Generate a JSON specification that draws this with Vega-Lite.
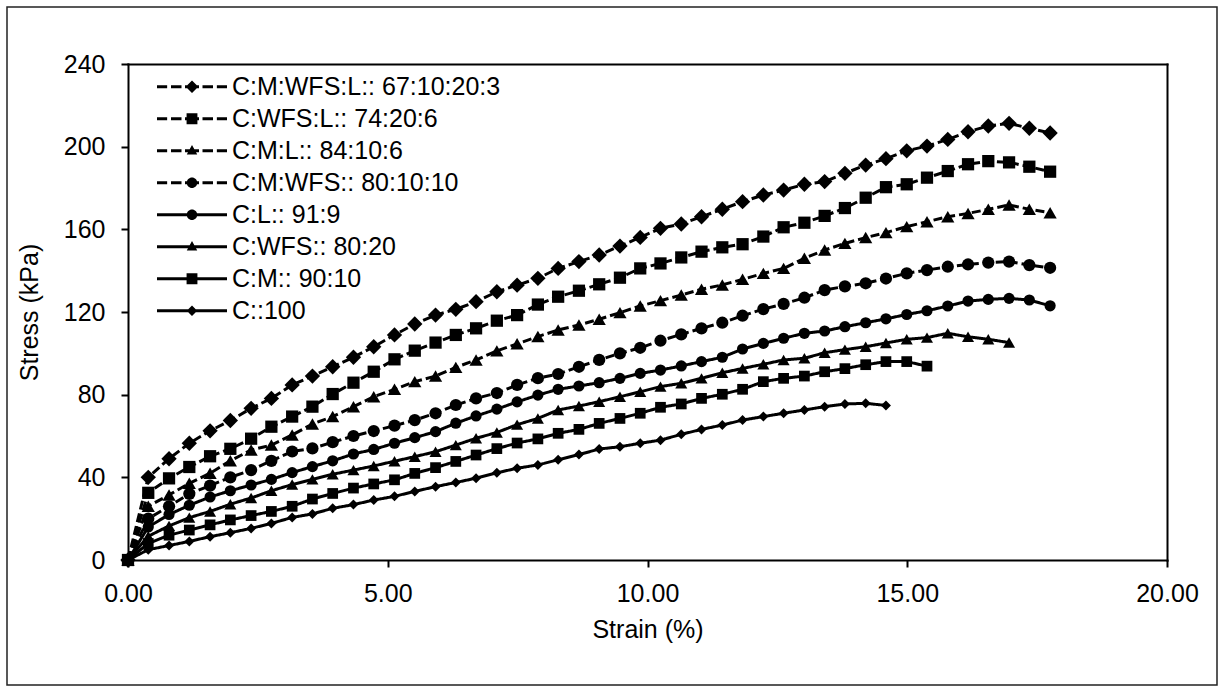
{
"$schema":"https://vega.github.io/schema/vega-lite/v6.json",
"width":1210,"height":678,
"autosize":{"type":"none"},
"padding":{"left":7,"top":7,"right":6,"bottom":1},
"background":"white",
"config":{
 "font":"Liberation Sans",
 "view":{"stroke":"#222","strokeWidth":1.5},
 "axis":{"domainColor":"black","domainWidth":2,"tickColor":"black","tickWidth":2,"tickSize":7,"labelFont":"Liberation Sans","labelFontSize":25,"labelColor":"black","titleFont":"Liberation Sans","titleFontSize":25,"titleFontWeight":"normal","titleColor":"black","grid":false,"domainCap":"square","labelFlush":false,"labelOverlap":false}
},
"data":{"values":[
{"series":"C:M:WFS:L:: 67:10:20:3","strain":0,"stress":0},{"series":"C:M:WFS:L:: 67:10:20:3","strain":0.39,"stress":40},{"series":"C:M:WFS:L:: 67:10:20:3","strain":0.79,"stress":49},{"series":"C:M:WFS:L:: 67:10:20:3","strain":1.18,"stress":56.5},{"series":"C:M:WFS:L:: 67:10:20:3","strain":1.58,"stress":62.5},{"series":"C:M:WFS:L:: 67:10:20:3","strain":1.97,"stress":67.5},{"series":"C:M:WFS:L:: 67:10:20:3","strain":2.37,"stress":73.4},{"series":"C:M:WFS:L:: 67:10:20:3","strain":2.76,"stress":78.2},{"series":"C:M:WFS:L:: 67:10:20:3","strain":3.16,"stress":84.7},{"series":"C:M:WFS:L:: 67:10:20:3","strain":3.55,"stress":89},{"series":"C:M:WFS:L:: 67:10:20:3","strain":3.94,"stress":93.5},{"series":"C:M:WFS:L:: 67:10:20:3","strain":4.34,"stress":98.1},{"series":"C:M:WFS:L:: 67:10:20:3","strain":4.73,"stress":103.2},{"series":"C:M:WFS:L:: 67:10:20:3","strain":5.13,"stress":108.9},{"series":"C:M:WFS:L:: 67:10:20:3","strain":5.52,"stress":114.2},{"series":"C:M:WFS:L:: 67:10:20:3","strain":5.92,"stress":118.5},{"series":"C:M:WFS:L:: 67:10:20:3","strain":6.31,"stress":121.3},{"series":"C:M:WFS:L:: 67:10:20:3","strain":6.7,"stress":125},{"series":"C:M:WFS:L:: 67:10:20:3","strain":7.1,"stress":129.8},{"series":"C:M:WFS:L:: 67:10:20:3","strain":7.49,"stress":133},{"series":"C:M:WFS:L:: 67:10:20:3","strain":7.89,"stress":136.3},{"series":"C:M:WFS:L:: 67:10:20:3","strain":8.28,"stress":141.1},{"series":"C:M:WFS:L:: 67:10:20:3","strain":8.68,"stress":144.4},{"series":"C:M:WFS:L:: 67:10:20:3","strain":9.07,"stress":147.6},{"series":"C:M:WFS:L:: 67:10:20:3","strain":9.47,"stress":151.9},{"series":"C:M:WFS:L:: 67:10:20:3","strain":9.86,"stress":156.1},{"series":"C:M:WFS:L:: 67:10:20:3","strain":10.25,"stress":160.5},{"series":"C:M:WFS:L:: 67:10:20:3","strain":10.65,"stress":162.6},{"series":"C:M:WFS:L:: 67:10:20:3","strain":11.04,"stress":166.1},{"series":"C:M:WFS:L:: 67:10:20:3","strain":11.44,"stress":169.7},{"series":"C:M:WFS:L:: 67:10:20:3","strain":11.83,"stress":173.4},{"series":"C:M:WFS:L:: 67:10:20:3","strain":12.23,"stress":176.6},{"series":"C:M:WFS:L:: 67:10:20:3","strain":12.62,"stress":179},{"series":"C:M:WFS:L:: 67:10:20:3","strain":13.02,"stress":181.8},{"series":"C:M:WFS:L:: 67:10:20:3","strain":13.41,"stress":183.1},{"series":"C:M:WFS:L:: 67:10:20:3","strain":13.8,"stress":187.1},{"series":"C:M:WFS:L:: 67:10:20:3","strain":14.2,"stress":191.1},{"series":"C:M:WFS:L:: 67:10:20:3","strain":14.59,"stress":194.2},{"series":"C:M:WFS:L:: 67:10:20:3","strain":14.99,"stress":198},{"series":"C:M:WFS:L:: 67:10:20:3","strain":15.38,"stress":200.3},{"series":"C:M:WFS:L:: 67:10:20:3","strain":15.78,"stress":203.5},{"series":"C:M:WFS:L:: 67:10:20:3","strain":16.17,"stress":207.2},{"series":"C:M:WFS:L:: 67:10:20:3","strain":16.56,"stress":210},{"series":"C:M:WFS:L:: 67:10:20:3","strain":16.96,"stress":211.3},{"series":"C:M:WFS:L:: 67:10:20:3","strain":17.35,"stress":208.9},{"series":"C:M:WFS:L:: 67:10:20:3","strain":17.75,"stress":206.6},
{"series":"C:WFS:L:: 74:20:6","strain":0,"stress":0},{"series":"C:WFS:L:: 74:20:6","strain":0.39,"stress":32.5},{"series":"C:WFS:L:: 74:20:6","strain":0.79,"stress":39.5},{"series":"C:WFS:L:: 74:20:6","strain":1.18,"stress":45},{"series":"C:WFS:L:: 74:20:6","strain":1.58,"stress":50.2},{"series":"C:WFS:L:: 74:20:6","strain":1.97,"stress":53.8},{"series":"C:WFS:L:: 74:20:6","strain":2.37,"stress":58.7},{"series":"C:WFS:L:: 74:20:6","strain":2.76,"stress":64.5},{"series":"C:WFS:L:: 74:20:6","strain":3.16,"stress":69.4},{"series":"C:WFS:L:: 74:20:6","strain":3.55,"stress":74.2},{"series":"C:WFS:L:: 74:20:6","strain":3.94,"stress":80.3},{"series":"C:WFS:L:: 74:20:6","strain":4.34,"stress":85.8},{"series":"C:WFS:L:: 74:20:6","strain":4.73,"stress":91.1},{"series":"C:WFS:L:: 74:20:6","strain":5.13,"stress":97.1},{"series":"C:WFS:L:: 74:20:6","strain":5.52,"stress":101.3},{"series":"C:WFS:L:: 74:20:6","strain":5.92,"stress":105.2},{"series":"C:WFS:L:: 74:20:6","strain":6.31,"stress":108.9},{"series":"C:WFS:L:: 74:20:6","strain":6.7,"stress":112.1},{"series":"C:WFS:L:: 74:20:6","strain":7.1,"stress":115.8},{"series":"C:WFS:L:: 74:20:6","strain":7.49,"stress":118.5},{"series":"C:WFS:L:: 74:20:6","strain":7.89,"stress":123.6},{"series":"C:WFS:L:: 74:20:6","strain":8.28,"stress":127.4},{"series":"C:WFS:L:: 74:20:6","strain":8.68,"stress":130.3},{"series":"C:WFS:L:: 74:20:6","strain":9.07,"stress":133.4},{"series":"C:WFS:L:: 74:20:6","strain":9.47,"stress":136.6},{"series":"C:WFS:L:: 74:20:6","strain":9.86,"stress":141.1},{"series":"C:WFS:L:: 74:20:6","strain":10.25,"stress":143.5},{"series":"C:WFS:L:: 74:20:6","strain":10.65,"stress":146.4},{"series":"C:WFS:L:: 74:20:6","strain":11.04,"stress":149.2},{"series":"C:WFS:L:: 74:20:6","strain":11.44,"stress":151.3},{"series":"C:WFS:L:: 74:20:6","strain":11.83,"stress":152.8},{"series":"C:WFS:L:: 74:20:6","strain":12.23,"stress":156.5},{"series":"C:WFS:L:: 74:20:6","strain":12.62,"stress":161},{"series":"C:WFS:L:: 74:20:6","strain":13.02,"stress":163.2},{"series":"C:WFS:L:: 74:20:6","strain":13.41,"stress":166.5},{"series":"C:WFS:L:: 74:20:6","strain":13.8,"stress":170.3},{"series":"C:WFS:L:: 74:20:6","strain":14.2,"stress":175.3},{"series":"C:WFS:L:: 74:20:6","strain":14.59,"stress":180.4},{"series":"C:WFS:L:: 74:20:6","strain":14.99,"stress":181.8},{"series":"C:WFS:L:: 74:20:6","strain":15.38,"stress":185},{"series":"C:WFS:L:: 74:20:6","strain":15.78,"stress":188.2},{"series":"C:WFS:L:: 74:20:6","strain":16.17,"stress":191.5},{"series":"C:WFS:L:: 74:20:6","strain":16.56,"stress":193},{"series":"C:WFS:L:: 74:20:6","strain":16.96,"stress":192.4},{"series":"C:WFS:L:: 74:20:6","strain":17.35,"stress":190.3},{"series":"C:WFS:L:: 74:20:6","strain":17.75,"stress":187.9},
{"series":"C:M:L:: 84:10:6","strain":0,"stress":0},{"series":"C:M:L:: 84:10:6","strain":0.39,"stress":26},{"series":"C:M:L:: 84:10:6","strain":0.79,"stress":31.5},{"series":"C:M:L:: 84:10:6","strain":1.18,"stress":37.1},{"series":"C:M:L:: 84:10:6","strain":1.58,"stress":42},{"series":"C:M:L:: 84:10:6","strain":1.97,"stress":48},{"series":"C:M:L:: 84:10:6","strain":2.37,"stress":53.2},{"series":"C:M:L:: 84:10:6","strain":2.76,"stress":55.6},{"series":"C:M:L:: 84:10:6","strain":3.16,"stress":60.5},{"series":"C:M:L:: 84:10:6","strain":3.55,"stress":65.8},{"series":"C:M:L:: 84:10:6","strain":3.94,"stress":69.4},{"series":"C:M:L:: 84:10:6","strain":4.34,"stress":74.2},{"series":"C:M:L:: 84:10:6","strain":4.73,"stress":79},{"series":"C:M:L:: 84:10:6","strain":5.13,"stress":82.6},{"series":"C:M:L:: 84:10:6","strain":5.52,"stress":86.3},{"series":"C:M:L:: 84:10:6","strain":5.92,"stress":89},{"series":"C:M:L:: 84:10:6","strain":6.31,"stress":93.2},{"series":"C:M:L:: 84:10:6","strain":6.7,"stress":96.8},{"series":"C:M:L:: 84:10:6","strain":7.1,"stress":101.2},{"series":"C:M:L:: 84:10:6","strain":7.49,"stress":104.6},{"series":"C:M:L:: 84:10:6","strain":7.89,"stress":108.1},{"series":"C:M:L:: 84:10:6","strain":8.28,"stress":111.3},{"series":"C:M:L:: 84:10:6","strain":8.68,"stress":113.7},{"series":"C:M:L:: 84:10:6","strain":9.07,"stress":116.5},{"series":"C:M:L:: 84:10:6","strain":9.47,"stress":119.7},{"series":"C:M:L:: 84:10:6","strain":9.86,"stress":122.9},{"series":"C:M:L:: 84:10:6","strain":10.25,"stress":125.5},{"series":"C:M:L:: 84:10:6","strain":10.65,"stress":128.2},{"series":"C:M:L:: 84:10:6","strain":11.04,"stress":131},{"series":"C:M:L:: 84:10:6","strain":11.44,"stress":133.1},{"series":"C:M:L:: 84:10:6","strain":11.83,"stress":135.8},{"series":"C:M:L:: 84:10:6","strain":12.23,"stress":138.7},{"series":"C:M:L:: 84:10:6","strain":12.62,"stress":141.1},{"series":"C:M:L:: 84:10:6","strain":13.02,"stress":146},{"series":"C:M:L:: 84:10:6","strain":13.41,"stress":150},{"series":"C:M:L:: 84:10:6","strain":13.8,"stress":153.2},{"series":"C:M:L:: 84:10:6","strain":14.2,"stress":156},{"series":"C:M:L:: 84:10:6","strain":14.59,"stress":158.4},{"series":"C:M:L:: 84:10:6","strain":14.99,"stress":161.3},{"series":"C:M:L:: 84:10:6","strain":15.38,"stress":163.7},{"series":"C:M:L:: 84:10:6","strain":15.78,"stress":166.1},{"series":"C:M:L:: 84:10:6","strain":16.17,"stress":167.7},{"series":"C:M:L:: 84:10:6","strain":16.56,"stress":169.7},{"series":"C:M:L:: 84:10:6","strain":16.96,"stress":171.8},{"series":"C:M:L:: 84:10:6","strain":17.35,"stress":169.7},{"series":"C:M:L:: 84:10:6","strain":17.75,"stress":168},
{"series":"C:M:WFS:: 80:10:10","strain":0,"stress":0},{"series":"C:M:WFS:: 80:10:10","strain":0.39,"stress":20},{"series":"C:M:WFS:: 80:10:10","strain":0.79,"stress":26},{"series":"C:M:WFS:: 80:10:10","strain":1.18,"stress":32},{"series":"C:M:WFS:: 80:10:10","strain":1.58,"stress":36},{"series":"C:M:WFS:: 80:10:10","strain":1.97,"stress":40},{"series":"C:M:WFS:: 80:10:10","strain":2.37,"stress":43.5},{"series":"C:M:WFS:: 80:10:10","strain":2.76,"stress":48},{"series":"C:M:WFS:: 80:10:10","strain":3.16,"stress":52.5},{"series":"C:M:WFS:: 80:10:10","strain":3.55,"stress":54},{"series":"C:M:WFS:: 80:10:10","strain":3.94,"stress":57},{"series":"C:M:WFS:: 80:10:10","strain":4.34,"stress":60},{"series":"C:M:WFS:: 80:10:10","strain":4.73,"stress":62.4},{"series":"C:M:WFS:: 80:10:10","strain":5.13,"stress":65},{"series":"C:M:WFS:: 80:10:10","strain":5.52,"stress":67.7},{"series":"C:M:WFS:: 80:10:10","strain":5.92,"stress":71},{"series":"C:M:WFS:: 80:10:10","strain":6.31,"stress":75},{"series":"C:M:WFS:: 80:10:10","strain":6.7,"stress":78.2},{"series":"C:M:WFS:: 80:10:10","strain":7.1,"stress":80.8},{"series":"C:M:WFS:: 80:10:10","strain":7.49,"stress":84.7},{"series":"C:M:WFS:: 80:10:10","strain":7.89,"stress":88},{"series":"C:M:WFS:: 80:10:10","strain":8.28,"stress":90},{"series":"C:M:WFS:: 80:10:10","strain":8.68,"stress":93.5},{"series":"C:M:WFS:: 80:10:10","strain":9.07,"stress":96.8},{"series":"C:M:WFS:: 80:10:10","strain":9.47,"stress":100},{"series":"C:M:WFS:: 80:10:10","strain":9.86,"stress":102.7},{"series":"C:M:WFS:: 80:10:10","strain":10.25,"stress":106.1},{"series":"C:M:WFS:: 80:10:10","strain":10.65,"stress":109.2},{"series":"C:M:WFS:: 80:10:10","strain":11.04,"stress":112.1},{"series":"C:M:WFS:: 80:10:10","strain":11.44,"stress":114.8},{"series":"C:M:WFS:: 80:10:10","strain":11.83,"stress":118.2},{"series":"C:M:WFS:: 80:10:10","strain":12.23,"stress":121.4},{"series":"C:M:WFS:: 80:10:10","strain":12.62,"stress":123.9},{"series":"C:M:WFS:: 80:10:10","strain":13.02,"stress":126.9},{"series":"C:M:WFS:: 80:10:10","strain":13.41,"stress":130.6},{"series":"C:M:WFS:: 80:10:10","strain":13.8,"stress":132.4},{"series":"C:M:WFS:: 80:10:10","strain":14.2,"stress":133.9},{"series":"C:M:WFS:: 80:10:10","strain":14.59,"stress":136.2},{"series":"C:M:WFS:: 80:10:10","strain":14.99,"stress":138.7},{"series":"C:M:WFS:: 80:10:10","strain":15.38,"stress":140.3},{"series":"C:M:WFS:: 80:10:10","strain":15.78,"stress":141.9},{"series":"C:M:WFS:: 80:10:10","strain":16.17,"stress":143},{"series":"C:M:WFS:: 80:10:10","strain":16.56,"stress":143.9},{"series":"C:M:WFS:: 80:10:10","strain":16.96,"stress":144.4},{"series":"C:M:WFS:: 80:10:10","strain":17.35,"stress":142.7},{"series":"C:M:WFS:: 80:10:10","strain":17.75,"stress":141.4},
{"series":"C:L:: 91:9","strain":0,"stress":0},{"series":"C:L:: 91:9","strain":0.39,"stress":16},{"series":"C:L:: 91:9","strain":0.79,"stress":22},{"series":"C:L:: 91:9","strain":1.18,"stress":26.5},{"series":"C:L:: 91:9","strain":1.58,"stress":30.5},{"series":"C:L:: 91:9","strain":1.97,"stress":33.5},{"series":"C:L:: 91:9","strain":2.37,"stress":36.3},{"series":"C:L:: 91:9","strain":2.76,"stress":39},{"series":"C:L:: 91:9","strain":3.16,"stress":42.3},{"series":"C:L:: 91:9","strain":3.55,"stress":45.2},{"series":"C:L:: 91:9","strain":3.94,"stress":48},{"series":"C:L:: 91:9","strain":4.34,"stress":51.3},{"series":"C:L:: 91:9","strain":4.73,"stress":53.5},{"series":"C:L:: 91:9","strain":5.13,"stress":56.5},{"series":"C:L:: 91:9","strain":5.52,"stress":59.2},{"series":"C:L:: 91:9","strain":5.92,"stress":62.1},{"series":"C:L:: 91:9","strain":6.31,"stress":66.2},{"series":"C:L:: 91:9","strain":6.7,"stress":69.7},{"series":"C:L:: 91:9","strain":7.1,"stress":73},{"series":"C:L:: 91:9","strain":7.49,"stress":76.5},{"series":"C:L:: 91:9","strain":7.89,"stress":79.8},{"series":"C:L:: 91:9","strain":8.28,"stress":82.6},{"series":"C:L:: 91:9","strain":8.68,"stress":84.2},{"series":"C:L:: 91:9","strain":9.07,"stress":85.8},{"series":"C:L:: 91:9","strain":9.47,"stress":87.9},{"series":"C:L:: 91:9","strain":9.86,"stress":90.3},{"series":"C:L:: 91:9","strain":10.25,"stress":91.9},{"series":"C:L:: 91:9","strain":10.65,"stress":93.9},{"series":"C:L:: 91:9","strain":11.04,"stress":96},{"series":"C:L:: 91:9","strain":11.44,"stress":98.1},{"series":"C:L:: 91:9","strain":11.83,"stress":102.1},{"series":"C:L:: 91:9","strain":12.23,"stress":104.8},{"series":"C:L:: 91:9","strain":12.62,"stress":107.3},{"series":"C:L:: 91:9","strain":13.02,"stress":109.7},{"series":"C:L:: 91:9","strain":13.41,"stress":110.8},{"series":"C:L:: 91:9","strain":13.8,"stress":112.9},{"series":"C:L:: 91:9","strain":14.2,"stress":114.8},{"series":"C:L:: 91:9","strain":14.59,"stress":116.7},{"series":"C:L:: 91:9","strain":14.99,"stress":118.8},{"series":"C:L:: 91:9","strain":15.38,"stress":120.6},{"series":"C:L:: 91:9","strain":15.78,"stress":122.9},{"series":"C:L:: 91:9","strain":16.17,"stress":125.3},{"series":"C:L:: 91:9","strain":16.56,"stress":126.1},{"series":"C:L:: 91:9","strain":16.96,"stress":126.6},{"series":"C:L:: 91:9","strain":17.35,"stress":125.8},{"series":"C:L:: 91:9","strain":17.75,"stress":123},
{"series":"C:WFS:: 80:20","strain":0,"stress":0},{"series":"C:WFS:: 80:20","strain":0.39,"stress":11.5},{"series":"C:WFS:: 80:20","strain":0.79,"stress":16.5},{"series":"C:WFS:: 80:20","strain":1.18,"stress":20.5},{"series":"C:WFS:: 80:20","strain":1.58,"stress":23.5},{"series":"C:WFS:: 80:20","strain":1.97,"stress":27},{"series":"C:WFS:: 80:20","strain":2.37,"stress":30},{"series":"C:WFS:: 80:20","strain":2.76,"stress":33.5},{"series":"C:WFS:: 80:20","strain":3.16,"stress":36.5},{"series":"C:WFS:: 80:20","strain":3.55,"stress":39},{"series":"C:WFS:: 80:20","strain":3.94,"stress":41.5},{"series":"C:WFS:: 80:20","strain":4.34,"stress":43.5},{"series":"C:WFS:: 80:20","strain":4.73,"stress":45.5},{"series":"C:WFS:: 80:20","strain":5.13,"stress":47.8},{"series":"C:WFS:: 80:20","strain":5.52,"stress":50},{"series":"C:WFS:: 80:20","strain":5.92,"stress":52.4},{"series":"C:WFS:: 80:20","strain":6.31,"stress":55.6},{"series":"C:WFS:: 80:20","strain":6.7,"stress":58.9},{"series":"C:WFS:: 80:20","strain":7.1,"stress":61.7},{"series":"C:WFS:: 80:20","strain":7.49,"stress":65.5},{"series":"C:WFS:: 80:20","strain":7.89,"stress":68.5},{"series":"C:WFS:: 80:20","strain":8.28,"stress":72.6},{"series":"C:WFS:: 80:20","strain":8.68,"stress":74.5},{"series":"C:WFS:: 80:20","strain":9.07,"stress":76.6},{"series":"C:WFS:: 80:20","strain":9.47,"stress":79},{"series":"C:WFS:: 80:20","strain":9.86,"stress":81.4},{"series":"C:WFS:: 80:20","strain":10.25,"stress":83.9},{"series":"C:WFS:: 80:20","strain":10.65,"stress":85.5},{"series":"C:WFS:: 80:20","strain":11.04,"stress":87.9},{"series":"C:WFS:: 80:20","strain":11.44,"stress":90.6},{"series":"C:WFS:: 80:20","strain":11.83,"stress":92.7},{"series":"C:WFS:: 80:20","strain":12.23,"stress":94.7},{"series":"C:WFS:: 80:20","strain":12.62,"stress":96.8},{"series":"C:WFS:: 80:20","strain":13.02,"stress":97.6},{"series":"C:WFS:: 80:20","strain":13.41,"stress":100.3},{"series":"C:WFS:: 80:20","strain":13.8,"stress":101.8},{"series":"C:WFS:: 80:20","strain":14.2,"stress":103.2},{"series":"C:WFS:: 80:20","strain":14.59,"stress":105},{"series":"C:WFS:: 80:20","strain":14.99,"stress":106.8},{"series":"C:WFS:: 80:20","strain":15.38,"stress":107.6},{"series":"C:WFS:: 80:20","strain":15.78,"stress":109.7},{"series":"C:WFS:: 80:20","strain":16.17,"stress":108},{"series":"C:WFS:: 80:20","strain":16.56,"stress":106.8},{"series":"C:WFS:: 80:20","strain":16.96,"stress":105.2},
{"series":"C:M:: 90:10","strain":0,"stress":0},{"series":"C:M:: 90:10","strain":0.39,"stress":8},{"series":"C:M:: 90:10","strain":0.79,"stress":12},{"series":"C:M:: 90:10","strain":1.18,"stress":14.5},{"series":"C:M:: 90:10","strain":1.58,"stress":17},{"series":"C:M:: 90:10","strain":1.97,"stress":19.4},{"series":"C:M:: 90:10","strain":2.37,"stress":21.5},{"series":"C:M:: 90:10","strain":2.76,"stress":23.5},{"series":"C:M:: 90:10","strain":3.16,"stress":26},{"series":"C:M:: 90:10","strain":3.55,"stress":29.5},{"series":"C:M:: 90:10","strain":3.94,"stress":32.2},{"series":"C:M:: 90:10","strain":4.34,"stress":34.8},{"series":"C:M:: 90:10","strain":4.73,"stress":36.8},{"series":"C:M:: 90:10","strain":5.13,"stress":38.8},{"series":"C:M:: 90:10","strain":5.52,"stress":41.9},{"series":"C:M:: 90:10","strain":5.92,"stress":44.7},{"series":"C:M:: 90:10","strain":6.31,"stress":47.7},{"series":"C:M:: 90:10","strain":6.7,"stress":50.8},{"series":"C:M:: 90:10","strain":7.1,"stress":53.9},{"series":"C:M:: 90:10","strain":7.49,"stress":56.6},{"series":"C:M:: 90:10","strain":7.89,"stress":58.6},{"series":"C:M:: 90:10","strain":8.28,"stress":61.3},{"series":"C:M:: 90:10","strain":8.68,"stress":63.2},{"series":"C:M:: 90:10","strain":9.07,"stress":66.1},{"series":"C:M:: 90:10","strain":9.47,"stress":68.5},{"series":"C:M:: 90:10","strain":9.86,"stress":71},{"series":"C:M:: 90:10","strain":10.25,"stress":73.9},{"series":"C:M:: 90:10","strain":10.65,"stress":75.5},{"series":"C:M:: 90:10","strain":11.04,"stress":78.2},{"series":"C:M:: 90:10","strain":11.44,"stress":80.2},{"series":"C:M:: 90:10","strain":11.83,"stress":82.6},{"series":"C:M:: 90:10","strain":12.23,"stress":86.3},{"series":"C:M:: 90:10","strain":12.62,"stress":87.9},{"series":"C:M:: 90:10","strain":13.02,"stress":89},{"series":"C:M:: 90:10","strain":13.41,"stress":91.1},{"series":"C:M:: 90:10","strain":13.8,"stress":92.6},{"series":"C:M:: 90:10","strain":14.2,"stress":94.5},{"series":"C:M:: 90:10","strain":14.59,"stress":96},{"series":"C:M:: 90:10","strain":14.99,"stress":96},{"series":"C:M:: 90:10","strain":15.38,"stress":93.8},
{"series":"C::100","strain":0,"stress":0},{"series":"C::100","strain":0.39,"stress":5},{"series":"C::100","strain":0.79,"stress":7},{"series":"C::100","strain":1.18,"stress":9},{"series":"C::100","strain":1.58,"stress":11.3},{"series":"C::100","strain":1.97,"stress":13.2},{"series":"C::100","strain":2.37,"stress":15.3},{"series":"C::100","strain":2.76,"stress":17.7},{"series":"C::100","strain":3.16,"stress":20.6},{"series":"C::100","strain":3.55,"stress":22.3},{"series":"C::100","strain":3.94,"stress":25},{"series":"C::100","strain":4.34,"stress":26.8},{"series":"C::100","strain":4.73,"stress":29},{"series":"C::100","strain":5.13,"stress":30.8},{"series":"C::100","strain":5.52,"stress":33.2},{"series":"C::100","strain":5.92,"stress":35.5},{"series":"C::100","strain":6.31,"stress":37.5},{"series":"C::100","strain":6.7,"stress":39.6},{"series":"C::100","strain":7.1,"stress":42.2},{"series":"C::100","strain":7.49,"stress":44.4},{"series":"C::100","strain":7.89,"stress":46},{"series":"C::100","strain":8.28,"stress":48.5},{"series":"C::100","strain":8.68,"stress":51},{"series":"C::100","strain":9.07,"stress":53.7},{"series":"C::100","strain":9.47,"stress":54.8},{"series":"C::100","strain":9.86,"stress":56.5},{"series":"C::100","strain":10.25,"stress":58},{"series":"C::100","strain":10.65,"stress":60.8},{"series":"C::100","strain":11.04,"stress":63.2},{"series":"C::100","strain":11.44,"stress":65.3},{"series":"C::100","strain":11.83,"stress":67.7},{"series":"C::100","strain":12.23,"stress":69.4},{"series":"C::100","strain":12.62,"stress":71},{"series":"C::100","strain":13.02,"stress":72.6},{"series":"C::100","strain":13.41,"stress":74.2},{"series":"C::100","strain":13.8,"stress":75.5},{"series":"C::100","strain":14.2,"stress":75.8},{"series":"C::100","strain":14.59,"stress":74.8}
]},
"layer":[
 {"mark":{"type":"line","color":"black","strokeWidth":3},
  "encoding":{
   "x":{"field":"strain","type":"quantitative","scale":{"domain":[0,20],"range":[121,1160],"nice":false,"zero":false},
        "axis":{"orient":"bottom","offset":-125,"values":[0,5,10,15,20],"format":".2f","labelPadding":14,"title":"Strain (%)","titleY":77.5,"titleBaseline":"alphabetic"}},
   "y":{"field":"stress","type":"quantitative","scale":{"domain":[0,240],"range":[553,57],"nice":false,"zero":false},
        "axis":{"orient":"left","offset":-121,"values":[0,40,80,120,160,200,240],"format":"d","labelPadding":16,"title":"Stress (kPa)","titleX":-90.5,"titleAngle":270,"titleBaseline":"alphabetic"}},
   "strokeDash":{"field":"series","type":"nominal",
     "scale":{"domain":["C:M:WFS:L:: 67:10:20:3","C:WFS:L:: 74:20:6","C:M:L:: 84:10:6","C:M:WFS:: 80:10:10","C:L:: 91:9","C:WFS:: 80:20","C:M:: 90:10","C::100"],
              "range":[[9,4],[9,4],[9,4],[9,4],[1,0],[1,0],[1,0],[1,0]]},"legend":null}
  }},
 {"mark":{"type":"point","filled":true,"color":"black","opacity":1},
  "encoding":{
   "x":{"field":"strain","type":"quantitative","axis":null},
   "y":{"field":"stress","type":"quantitative","axis":null},
   "shape":{"field":"series","type":"nominal",
     "scale":{"domain":["C:M:WFS:L:: 67:10:20:3","C:WFS:L:: 74:20:6","C:M:L:: 84:10:6","C:M:WFS:: 80:10:10","C:L:: 91:9","C:WFS:: 80:20","C:M:: 90:10","C::100"],
              "range":["diamond","square","triangle-up","circle","circle","triangle-up","square","diamond"]},"legend":null},
   "size":{"field":"series","type":"nominal",
     "scale":{"type":"ordinal","domain":["C:M:WFS:L:: 67:10:20:3","C:WFS:L:: 74:20:6","C:M:L:: 84:10:6","C:M:WFS:: 80:10:10","C:L:: 91:9","C:WFS:: 80:20","C:M:: 90:10","C::100"],
              "range":[235,150,175,150,125,145,115,100]},"legend":null}
  }},
 {"transform":[{"filter":"false"}],
  "mark":{"type":"point","filled":true,"color":"black"},
  "encoding":{
   "x":{"field":"strain","type":"quantitative","axis":{"orient":"top","offset":-57,"ticks":false,"labels":false,"title":null}},
   "y":{"field":"stress","type":"quantitative","axis":{"orient":"right","offset":-50,"ticks":false,"labels":false,"title":null}},
   "shape":{"field":"series","type":"nominal",
     "scale":{"domain":["C:M:WFS:L:: 67:10:20:3","C:WFS:L:: 74:20:6","C:M:L:: 84:10:6","C:M:WFS:: 80:10:10","C:L:: 91:9","C:WFS:: 80:20","C:M:: 90:10","C::100"],
              "range":[
               "M-1,-0.045H-0.71V0.045H-1ZM-0.6,-0.045H-0.3V0.045H-0.6ZM-0.2,-0.045H0.2V0.045H-0.2ZM0.3,-0.045H0.6V0.045H0.3ZM0.71,-0.045H1V0.045H0.71ZM0,-0.18L0.18,0L0,0.18L-0.18,0Z",
               "M-1,-0.045H-0.71V0.045H-1ZM-0.6,-0.045H-0.3V0.045H-0.6ZM-0.2,-0.045H0.2V0.045H-0.2ZM0.3,-0.045H0.6V0.045H0.3ZM0.71,-0.045H1V0.045H0.71ZM-0.155,-0.155H0.155V0.155H-0.155Z",
               "M-1,-0.045H-0.71V0.045H-1ZM-0.6,-0.045H-0.3V0.045H-0.6ZM-0.2,-0.045H0.2V0.045H-0.2ZM0.3,-0.045H0.6V0.045H0.3ZM0.71,-0.045H1V0.045H0.71ZM0,-0.16L0.15,0.11L-0.15,0.11Z",
               "M-1,-0.045H-0.71V0.045H-1ZM-0.6,-0.045H-0.3V0.045H-0.6ZM-0.2,-0.045H0.2V0.045H-0.2ZM0.3,-0.045H0.6V0.045H0.3ZM0.71,-0.045H1V0.045H0.71ZM-0.15,0A0.15,0.15,0,1,1,0.15,0A0.15,0.15,0,1,1,-0.15,0Z",
               "M-1,-0.045H1V0.045H-1ZM-0.15,0A0.15,0.15,0,1,1,0.15,0A0.15,0.15,0,1,1,-0.15,0Z",
               "M-1,-0.045H1V0.045H-1ZM0,-0.16L0.15,0.11L-0.15,0.11Z",
               "M-1,-0.045H1V0.045H-1ZM-0.155,-0.155H0.155V0.155H-0.155Z",
               "M-1,-0.045H1V0.045H-1ZM0,-0.15L0.15,0L0,0.15L-0.15,0Z"]},
     "legend":{"title":null,"orient":"none","legendX":148.5,"legendY":63.85,"direction":"vertical","symbolSize":4900,"symbolStrokeWidth":3,"symbolFillColor":"black","symbolOpacity":1,"clipHeight":31.7,"rowPadding":0,"labelOffset":3.5,"labelFont":"Liberation Sans","labelFontSize":25,"labelColor":"black","labelLimit":0,"padding":0}}
  }}
],
"resolve":{"scale":{"shape":"independent"},"axis":{"x":"independent","y":"independent"}}
}
